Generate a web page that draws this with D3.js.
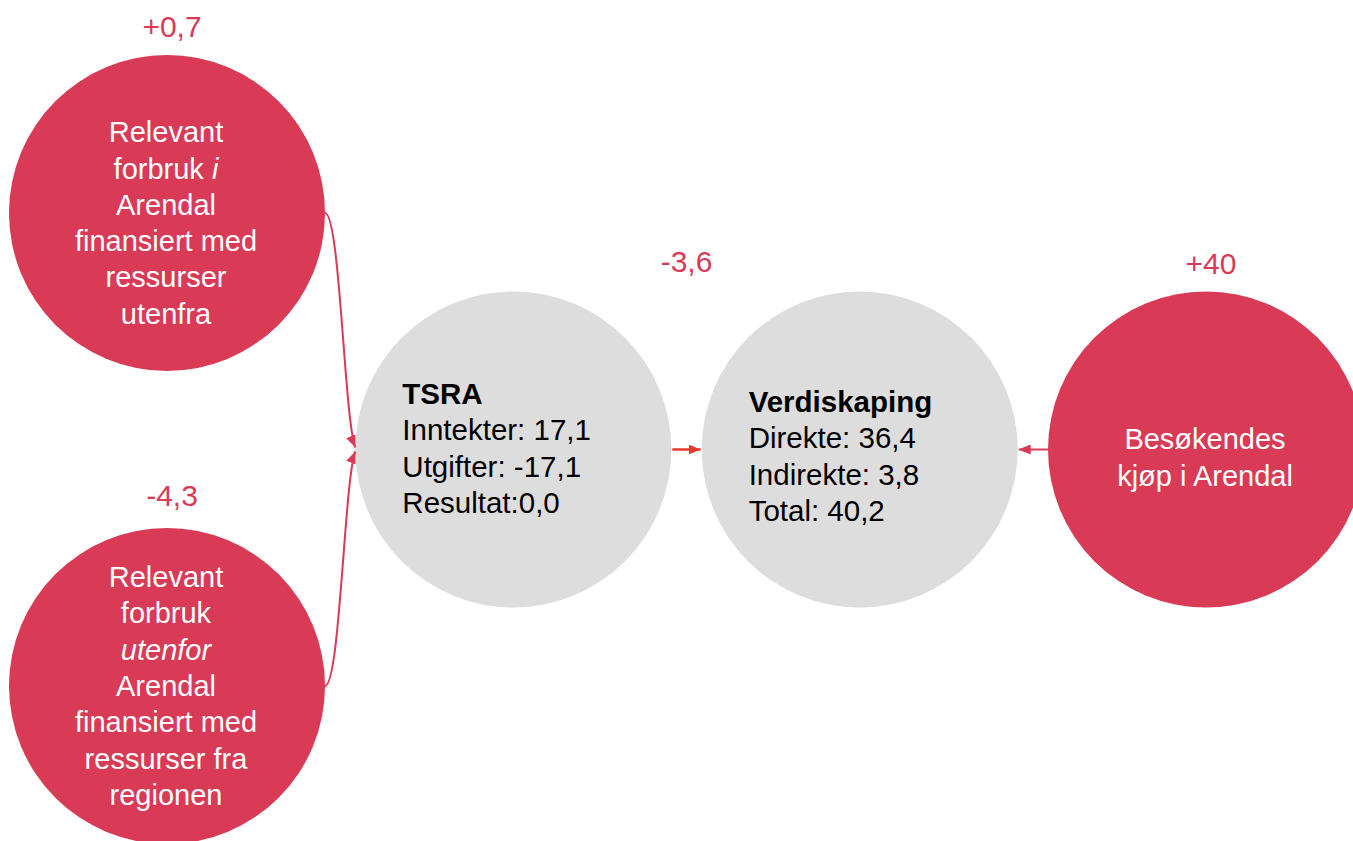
<!DOCTYPE html>
<html>
<head>
<meta charset="utf-8">
<script src="https://cdn.jsdelivr.net/npm/d3@7/dist/d3.min.js"></script>
<style>
  html, body { margin: 0; padding: 0; background: #ffffff; }
  svg { display: block; font-family: "Liberation Sans", Arial, sans-serif; }
</style>
</head>
<body>
<svg id="chart" width="1353" height="841"></svg>
<script>
// ---------- DATA ----------
const nodeIds = ["inne", "ute", "tsra", "verdi", "besok"];
const nodeKinds = ["kilde", "kilde", "resultat", "resultat", "kilde"];
// text lines; each line is a list of [text, italic] segments
const nodeLines = [
  [[["Relevant", false]], [["forbruk ", false], ["i", true]], [["Arendal", false]], [["finansiert med", false]], [["ressurser", false]], [["utenfra", false]]],
  [[["Relevant", false]], [["forbruk", false]], [["utenfor", true]], [["Arendal", false]], [["finansiert med", false]], [["ressurser fra", false]], [["regionen", false]]],
  [],
  [],
  [[["Besøkendes", false]], [["kjøp i Arendal", false]]]
];
const boxTitles = ["TSRA", "Verdiskaping"];
const tsraLines = ["Inntekter: 17,1", "Utgifter: -17,1", "Resultat:0,0"];
const verdiLines = ["Direkte: 36,4", "Indirekte: 3,8", "Total: 40,2"];
const changeLabels = ["+0,7", "-4,3", "-3,6", "+40"];
const changeTargets = ["inne", "ute", "tsra>verdi", "besok"];
const linkSources = ["inne", "ute", "tsra", "besok"];
const linkTargets = ["tsra", "tsra", "verdi", "verdi"];

// ---------- LAYOUT (not data) ----------
const W = 1353, H = 841;
const R = 158;
const RED = "#D93A56", GRAY = "#DDDDDD", ORANGE = "#E5392C";
const nodeCol = { inne: 0, ute: 0, tsra: 1, verdi: 2, besok: 3 };
const nodeRow = { inne: "top", ute: "bot", tsra: "mid", verdi: "mid", besok: "mid" };
const textShift = { inne: 20, ute: 10, tsra: 9, verdi: 17, besok: 18 };
const lineH = 36.3;

const x = d3.scalePoint().domain([0, 1, 2, 3]).range([167, 1206]);
const y = d3.scalePoint().domain(["top", "mid", "bot"]).range([213, 686]);

const nodes = nodeIds.map((id, i) => ({
  id, kind: nodeKinds[i], lines: nodeLines[i],
  cx: x(nodeCol[id]), cy: y(nodeRow[id])
}));
const byId = Object.fromEntries(nodes.map(n => [n.id, n]));

const svg = d3.select("#chart");
const defs = svg.append("defs");
function marker(id, color) {
  defs.append("marker")
    .attr("id", id)
    .attr("markerUnits", "userSpaceOnUse")
    .attr("viewBox", "0 0 12 10")
    .attr("markerWidth", 12).attr("markerHeight", 10)
    .attr("refX", 12).attr("refY", 5)
    .attr("orient", "auto")
    .append("path").attr("d", "M0,0 L12,5 L0,10 Z").attr("fill", color);
}
marker("arrRed", RED);
marker("arrOrange", ORANGE);

// ---------- CIRCLES ----------
svg.append("g").selectAll("circle").data(nodes).join("circle")
  .attr("cx", d => d.cx).attr("cy", d => d.cy).attr("r", R)
  .attr("fill", d => d.kind === "kilde" ? RED : GRAY);

// ---------- LINKS ----------
const linkG = svg.append("g").attr("fill", "none");
linkSources.forEach((s, i) => {
  const a = byId[s], b = byId[linkTargets[i]];
  let d, color;
  if (a.cx < b.cx && a.cy !== b.cy) {
    const sx = a.cx + R, sy = a.cy;
    const ex = b.cx - R, ey = b.cy + (a.cy < b.cy ? -2 : 2);
    const p = d3.path();
    p.moveTo(sx, sy);
    p.bezierCurveTo(sx + 15, sy, ex - 11, ey + (a.cy < b.cy ? -27 : 27), ex, ey);
    d = p.toString();
    color = RED;
  } else if (a.cx < b.cx) {
    const p = d3.path();
    p.moveTo(a.cx + R + 1, a.cy); p.lineTo(b.cx - R - 1, b.cy);
    d = p.toString();
    color = ORANGE;
  } else {
    const p = d3.path();
    p.moveTo(a.cx - R, a.cy); p.lineTo(b.cx + R + 1, b.cy);
    d = p.toString();
    color = RED;
  }
  linkG.append("path").attr("d", d)
    .attr("stroke", color).attr("stroke-width", color === ORANGE ? 2.5 : 2)
    .attr("marker-end", color === ORANGE ? "url(#arrOrange)" : "url(#arrRed)");
});

// ---------- TEXT IN RED CIRCLES ----------
nodes.filter(n => n.kind === "kilde").forEach(n => {
  const t = svg.append("text")
    .attr("text-anchor", "middle").attr("fill", "#ffffff")
    .attr("font-size", 29);
  const y0 = n.cy - (n.lines.length - 1) / 2 * lineH + textShift[n.id];
  n.lines.forEach((segs, li) => {
    const line = t.append("tspan").attr("x", n.cx - 1).attr("y", y0 + li * lineH);
    segs.forEach(([s, it]) => {
      line.append("tspan").text(s).attr("font-style", it ? "italic" : "normal");
    });
  });
});

// ---------- TEXT IN GRAY CIRCLES ----------
[["tsra", boxTitles[0], tsraLines], ["verdi", boxTitles[1], verdiLines]].forEach(([id, title, lines]) => {
  const n = byId[id];
  const all = [title].concat(lines);
  const y0 = n.cy - (all.length - 1) / 2 * lineH + textShift[id];
  const t = svg.append("text").attr("fill", "#000000").attr("font-size", 29.5);
  all.forEach((s, i) => {
    t.append("tspan").attr("x", n.cx - 111).attr("y", y0 + i * lineH)
      .attr("font-weight", i === 0 ? "bold" : "normal").text(s);
  });
});

// ---------- CHANGE LABELS ----------
changeLabels.forEach((lab, i) => {
  const tgt = changeTargets[i];
  let lx, ly;
  if (tgt.includes(">")) {
    const [a, b] = tgt.split(">").map(k => byId[k]);
    lx = (a.cx + b.cx) / 2; ly = a.cy - R - 20;
  } else {
    const n = byId[tgt];
    lx = n.cx + 5; ly = n.cy - R - (n.cy > 600 ? 22 : 18);
  }
  svg.append("text").attr("x", lx).attr("y", ly)
    .attr("text-anchor", "middle").attr("fill", RED)
    .attr("font-size", 30).text(lab);
});
</script>
</body>
</html>
